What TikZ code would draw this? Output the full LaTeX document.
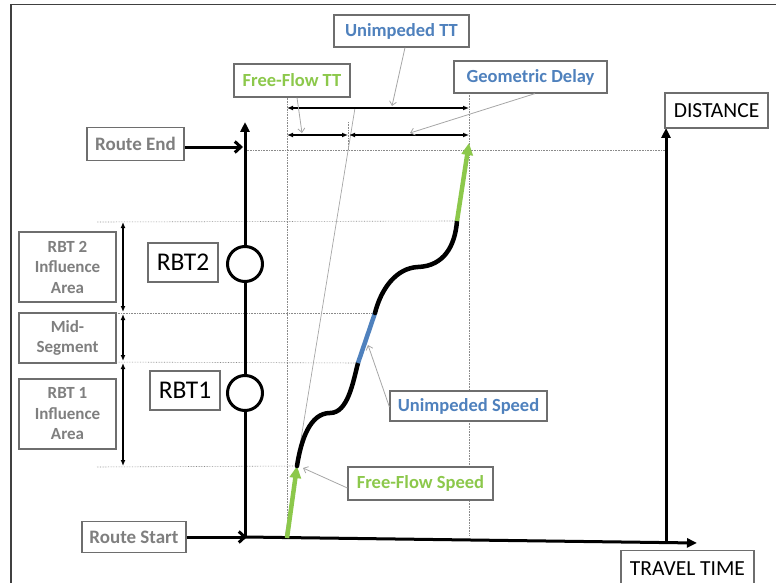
\documentclass[tikz,border=0pt]{standalone}
\usepackage{fontspec}
\setmainfont{Carlito}
\usetikzlibrary{arrows.meta}
\definecolor{labelgrey}{HTML}{7F7F7F}
\definecolor{boxgrey}{HTML}{6E6E6E}
\definecolor{dotgrey}{HTML}{8A8A8A}
\definecolor{leadgrey}{HTML}{A6A6A6}
\definecolor{ttblue}{HTML}{4F81BD}
\definecolor{ffgreen}{HTML}{8CC84B}
\definecolor{framegrey}{HTML}{404040}
\begin{document}
\begin{tikzpicture}[x=1pt,y=-1pt,
  lbox/.style={draw=boxgrey,line width=1.2pt,fill=white,inner sep=0pt,align=center},
  greylbl/.style={lbox,text=labelgrey,font=\bfseries\fontsize{19}{21}\selectfont},
  arealbl/.style={lbox,text=labelgrey,font=\bfseries\fontsize{17}{20.5}\selectfont,minimum width=97pt},
  bluelbl/.style={lbox,text=ttblue,font=\bfseries\fontsize{18.5}{20}\selectfont},
  greenlbl/.style={lbox,text=ffgreen,font=\bfseries\fontsize{18.5}{20}\selectfont},
  blacklbl/.style={lbox,text=black,font=\fontsize{21.5}{23}\selectfont},
  rbtlbl/.style={lbox,text=black,font=\fontsize{25.5}{27}\selectfont,minimum width=70pt,minimum height=39pt},
  axis/.style={line width=3pt,-{Triangle[length=10pt,width=9pt]}},
  feed/.style={line width=3pt,-{Straight Barb[length=6pt,width=11pt]}},
  guide/.style={dotgrey,densely dotted,line width=0.6pt},
  dim/.style={line width=1.2pt,{Latex[length=6pt,width=5pt]}-{Latex[length=6pt,width=5pt]}},
  leader/.style={leadgrey,line width=0.8pt,-{Straight Barb[length=4pt,width=7pt]}},
  rbt/.style={circle,draw=black,line width=3pt,fill=white,minimum size=35pt,inner sep=0pt},
  ffseg/.style={ffgreen,line width=4.5pt,-{Triangle[length=12pt,width=11pt]}},
  curve/.style={line width=4.5pt,line cap=round}
]
\useasboundingbox (0,0) rectangle (776,583);

% frame (top and left edges)
\draw[framegrey,line width=1.6pt] (11,583) -- (11,4.5) -- (776,4.5);

% key points of the axes
\coordinate (O) at (245,537);
\coordinate (Vtop) at (245,122);
\coordinate (Htip) at (697,543);
\coordinate (Rbase) at (666,541);
\coordinate (Rtop) at (666,128);

% trajectory points
\coordinate (S0) at (287,538);
\coordinate (S1) at (297,466);
\coordinate (S2) at (358,363);
\coordinate (S3) at (375,313);
\coordinate (S4) at (457,221);
\coordinate (S5) at (469,143);

% guide lines
\coordinate (gA) at (287,96);
\coordinate (gAb) at (287,537);
\coordinate (gB) at (469,93);
\coordinate (gBb) at (469,535);
\coordinate (gC) at (348,122);
\coordinate (gCb) at (348,150);
\draw[guide] (gA) -- (gAb);
\draw[guide] (gB) -- (gBb);
\draw[guide] (gC) -- (gCb);
\draw[guide] (245,150) -- (Rtop |- 0,150);
\draw[guide] (97,222) -- (S4);
\draw[guide] (97,313) -- (S3);
\draw[guide] (97,362) -- (S2);
\draw[guide] (97,467) -- (S1);
% free-flow speed extension
\coordinate (ffA) at (285,537);
\coordinate (ffB) at (355,108);
\draw[leadgrey,line width=0.7pt] (ffA) -- (ffB);

% axes
\draw[axis] (O) -- (Vtop);
\draw[axis] (O) -- (Htip);
\draw[axis] (Rbase) -- (Rtop);

% roundabouts
\node[rbt] (c2) at (245,264) {};
\node[rbt] (c1) at (245,393) {};

% labels on the left
\node[greylbl,minimum width=97pt,minimum height=33pt] (rend) at (135.5,144) {Route End};
\node[greylbl,minimum width=104pt,minimum height=31pt] (rstart) at (134,537) {Route Start};
\draw[feed] (rend.east |- 0,147) -- (243,147);
\draw[feed] (rstart.east) -- (247,537);

\node[arealbl,minimum height=70pt] (a2) at (67.5,267) {RBT 2\\Influence\\Area};
\node[arealbl,minimum height=50pt] (am) at (67.5,338) {Mid-\\Segment};
\node[arealbl,minimum height=70pt] (a1) at (67.5,414) {RBT 1\\Influence\\Area};
\node[rbtlbl] (r2) at (183,262.5) {RBT2};
\node[rbtlbl] (r1) at (185,390.5) {RBT1};

% extents along the route
\coordinate (e0) at (123,222);
\coordinate (e1) at (123,312);
\coordinate (e2) at (123,314);
\coordinate (e3) at (123,361);
\coordinate (e4) at (123,363);
\coordinate (e5) at (123,466);
\draw[dim] (e0) -- (e1);
\draw[dim] (e2) -- (e3);
\draw[dim] (e4) -- (e5);

% axis titles
\node[blacklbl,minimum width=103pt,minimum height=35pt] (dist) at (716.5,110.5) {DISTANCE};
\node[blacklbl,minimum width=133pt,minimum height=36pt,anchor=north] (tt) at (687.5,550) {TRAVEL TIME};

% trajectory
\draw[ffseg] (S0) -- (S1);
\draw[curve] (S1) .. controls (301,440) and (310,413) .. (330,413)
                  .. controls (348,413) and (353,382) .. (S2);
\draw[ttblue,line width=4.5pt] (S2) -- (S3);
\draw[curve] (S3) .. controls (381,289) and (396,268) .. (418,267)
                  .. controls (444,266) and (455,246) .. (S4);
\draw[ffseg] (S4) -- (S5);

% travel time dimensions
\coordinate (d0) at (287,108);
\coordinate (d1) at (469,108);
\coordinate (d2) at (287,135);
\coordinate (d3) at (348,135);
\coordinate (d4) at (349,135);
\coordinate (d5) at (469,135);
\draw[dim] (d0) -- (d1);
\draw[dim] (d2) -- (d3);
\draw[dim] (d4) -- (d5);

% callouts
\node[bluelbl,minimum width=135pt,minimum height=32pt] (uTT) at (401.5,31) {Unimpeded TT};
\node[greenlbl,minimum width=116pt,minimum height=33pt] (fTT) at (292,80.5) {Free-Flow TT};
\node[bluelbl,minimum width=153pt,minimum height=32pt] (gD) at (530.5,77) {Geometric Delay};
\node[bluelbl,minimum width=157pt,minimum height=30pt] (uS) at (468.5,406) {Unimpeded Speed};
\node[greenlbl,minimum width=145pt,minimum height=33pt] (fS) at (420.5,483.5) {Free-Flow Speed};

\coordinate (pU) at (392,106);
\coordinate (pF) at (302,133);
\coordinate (pG) at (410,133);
\coordinate (pUS) at (368,345);
\coordinate (pFS) at (303,468);
\draw[leader] (uTT.south -| 405,0) -- (pU);
\draw[leader] (fTT.south -| 297,0) -- (pF);
\draw[leader] (gD.south -| 535,0) -- (pG);
\draw[leader] (uS.west |- 0,407) -- (pUS);
\draw[leader] (fS.west |- 0,488) -- (pFS);
\end{tikzpicture}
\end{document}
